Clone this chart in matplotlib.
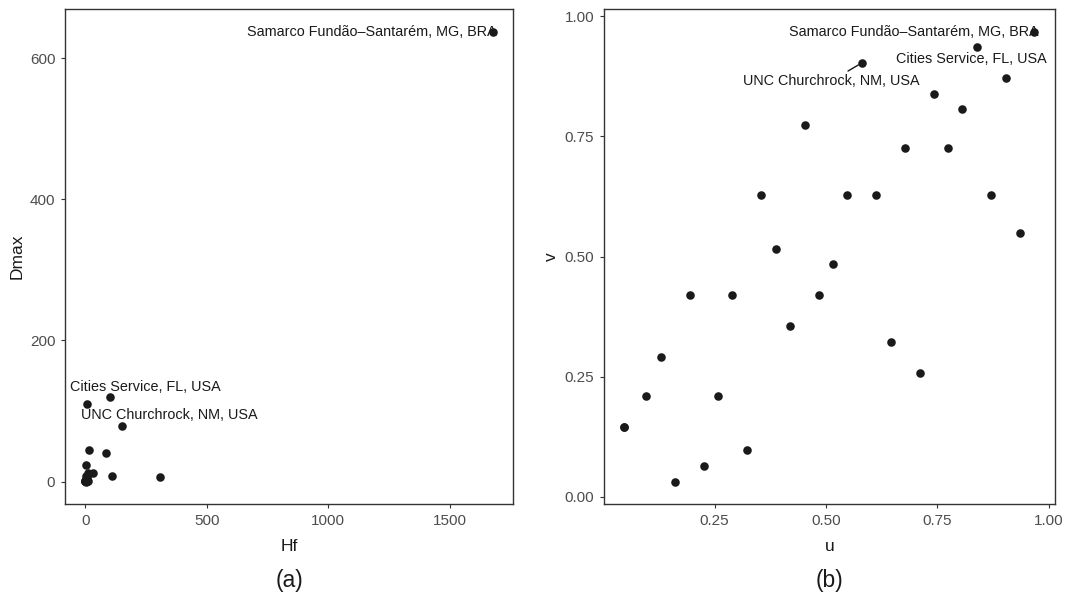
import matplotlib
matplotlib.use("Agg")
import matplotlib.pyplot as plt
import numpy as np

plt.rcParams["font.family"] = ["Liberation Sans", "DejaVu Sans"]

# dados (a): altura Hf x distância Dmax
hf = [0.3, 0.3, 0.5, 0.8, 1.0, 1.2, 1.5, 2.0, 2.2, 2.5, 2.8, 3.0, 3.5, 4.0, 4.5,
      5.0, 5.5, 7.0, 8.0, 9.0, 10.0, 12.0, 16.0, 32.0, 86.0, 103.0, 110.0, 152.0,
      307.0, 1676.0]
dmax = [0.5, 0.5, 0.7, 1.2, 0.1, 2.5, 0.2, 0.7, 2.5, 0.3, 7.5, 3.5, 2.0, 24.0, 2.5,
        3.0, 7.5, 110.0, 7.5, 1.5, 12.0, 1.0, 45.0, 12.0, 40.0, 120.0, 7.5, 79.0,
        6.0, 638.0]

# dados (b): pseudo-observações u, v
u = [0.048, 0.048, 0.097, 0.129, 0.161, 0.194, 0.226, 0.258, 0.290, 0.323,
     0.355, 0.387, 0.419, 0.452, 0.484, 0.516, 0.548, 0.581, 0.613, 0.645,
     0.677, 0.710, 0.742, 0.774, 0.806, 0.839, 0.871, 0.903, 0.935, 0.968]
v = [0.145, 0.145, 0.210, 0.290, 0.032, 0.419, 0.065, 0.210, 0.419, 0.097,
     0.629, 0.516, 0.355, 0.774, 0.419, 0.484, 0.629, 0.903, 0.629, 0.323,
     0.726, 0.258, 0.839, 0.726, 0.806, 0.935, 0.629, 0.871, 0.548, 0.968]

# barragens destacadas: índice do ponto -> nome
rotulos = {29: "Samarco Fundão–Santarém, MG, BRA",
           25: "Cities Service, FL, USA",
           17: "UNC Churchrock, NM, USA"}

# deslocamentos dos rótulos em pontos (a e b)
desloc_a = {29: (3, 0, "right"), 25: (25, 7, "center"), 17: (59, -8, "center")}
desloc_b = {29: (3, 0, "right"), 25: (-4, -8, "center"), 17: (-22, -13, "center")}

cor_ponto = "#1a1a1a"
cor_borda = "#333333"
cor_tick = "#4d4d4d"


def estilo(ax):
    for s in ax.spines.values():
        s.set_color(cor_borda)
        s.set_linewidth(1.0)
    ax.tick_params(direction="out", length=3, width=0.8, color=cor_borda,
                   labelcolor=cor_tick, labelsize=11, pad=4)


def limites(dados):
    lo, hi = min(dados), max(dados)
    m = 0.05 * (hi - lo)
    return lo - m, hi + m


fig = plt.figure(figsize=(10.69, 5.94), dpi=100)
ax1 = fig.add_axes([0.0608, 0.1515, 0.4191, 0.8333])
ax2 = fig.add_axes([0.5650, 0.1515, 0.4219, 0.8333])

# painel (a)
ax1.scatter(hf, dmax, s=38, color=cor_ponto, linewidths=0, zorder=3)
ax1.set_xlim(*limites(hf))
ax1.set_ylim(*limites(dmax))
ax1.set_xticks([0, 500, 1000, 1500])
ax1.set_yticks([0, 200, 400, 600])
ax1.set_xlabel("Hf", fontsize=12.5, color="#1a1a1a", labelpad=8)
ax1.set_ylabel("Dmax", fontsize=12.5, color="#1a1a1a", labelpad=4)
for i, nome in rotulos.items():
    dx, dy, ha = desloc_a[i]
    ax1.annotate(nome, (hf[i], dmax[i]), xytext=(dx, dy), textcoords="offset points",
                 ha=ha, va="center", fontsize=10.4, color="#1a1a1a", zorder=2)
estilo(ax1)

# painel (b)
ax2.scatter(u, v, s=38, color=cor_ponto, linewidths=0, zorder=3)
ax2.set_xlim(*limites(u))
ax2.set_ylim(*limites(v))
ax2.set_xticks([0.25, 0.50, 0.75, 1.00])
ax2.set_yticks([0.00, 0.25, 0.50, 0.75, 1.00])
ax2.xaxis.set_major_formatter(matplotlib.ticker.FormatStrFormatter("%.2f"))
ax2.yaxis.set_major_formatter(matplotlib.ticker.FormatStrFormatter("%.2f"))
ax2.set_xlabel("u", fontsize=12.5, color="#1a1a1a", labelpad=8)
ax2.set_ylabel("v", fontsize=12.5, color="#1a1a1a", labelpad=4)
for i, nome in rotulos.items():
    dx, dy, ha = desloc_b[i]
    seta = None
    if i == 17:
        seta = dict(arrowstyle="-", color="#1a1a1a", lw=1.0, shrinkA=0, shrinkB=3)
    ax2.annotate(nome, (u[i], v[i]), xytext=(dx, dy), textcoords="offset points",
                 ha=ha, va="center", fontsize=10.4, color="#1a1a1a", zorder=2,
                 arrowprops=seta)
estilo(ax2)

fig.text(0.0608 + 0.4191 / 2, 0.022, "(a)", ha="center", va="center", fontsize=16.5,
         color="#1a1a1a")
fig.text(0.5650 + 0.4219 / 2, 0.022, "(b)", ha="center", va="center", fontsize=16.5,
         color="#1a1a1a")

fig.savefig("out.png", dpi=100)
